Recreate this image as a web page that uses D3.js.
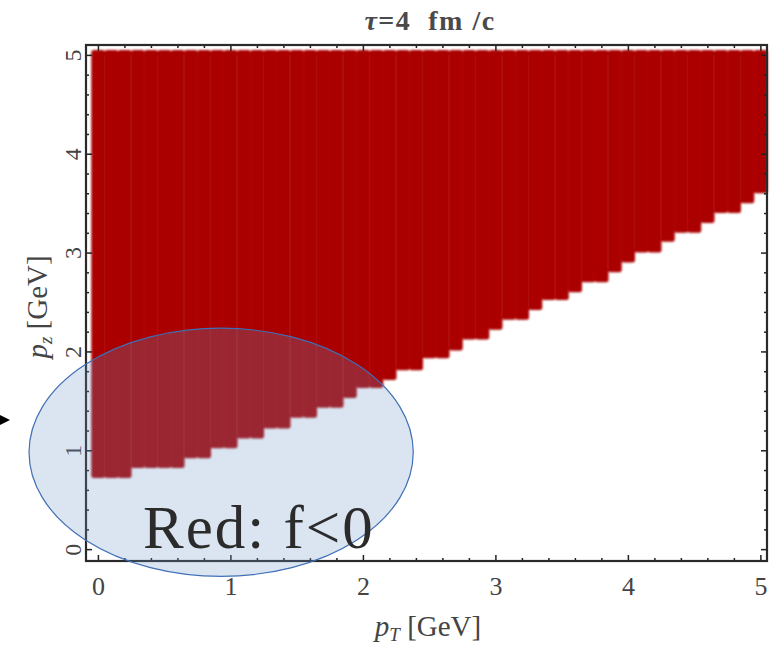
<html>

<head>
	<meta charset="utf-8">
	<script src="https://d3js.org/d3.v7.min.js"></script>
</head>

<body style="margin:0; background:#fff">
	<svg width="771" height="645"></svg>
	<script>
		// grid columns (pT, GeV) and lowest pz where f<0 in each column
		var pT = [0.0, 0.1, 0.2, 0.3, 0.4, 0.5, 0.6, 0.7, 0.8, 0.9,
			1.0, 1.1, 1.2, 1.3, 1.4, 1.5, 1.6, 1.7, 1.8, 1.9,
			2.0, 2.1, 2.2, 2.3, 2.4, 2.5, 2.6, 2.7, 2.8, 2.9,
			3.0, 3.1, 3.2, 3.3, 3.4, 3.5, 3.6, 3.7, 3.8, 3.9,
			4.0, 4.1, 4.2, 4.3, 4.4, 4.5, 4.6, 4.7, 4.8, 4.9, 5.0];
		var pzMin = [0.72, 0.72, 0.72, 0.82, 0.82, 0.82, 0.82, 0.92, 0.92, 1.02,
			1.02, 1.12, 1.12, 1.22, 1.22, 1.33, 1.33, 1.43, 1.43, 1.53,
			1.63, 1.63, 1.71, 1.81, 1.81, 1.93, 1.93, 2.01, 2.12, 2.12,
			2.22, 2.32, 2.32, 2.42, 2.52, 2.52, 2.60, 2.70, 2.70, 2.80,
			2.90, 3.00, 3.00, 3.11, 3.20, 3.20, 3.30, 3.40, 3.40, 3.50, 3.60];
		var pzMax = 5;
		var majorTicks = [0, 1, 2, 3, 4, 5];
		var minorTicks = [0.2, 0.4, 0.6, 0.8, 1.2, 1.4, 1.6, 1.8, 2.2, 2.4, 2.6, 2.8,
			3.2, 3.4, 3.6, 3.8, 4.2, 4.4, 4.6, 4.8];

		var svg = d3.select("svg"),
			frame = { left: 86, right: 767, top: 45, bottom: 561 },
			half = 0.05,
			serif = "'Liberation Serif', 'Times New Roman', serif";

		var x = d3.scaleLinear()
			.domain([-0.09, 5.05])
			.range([frame.left, frame.right]);

		var y = d3.scaleLinear()
			.domain([-0.12, 5.1])
			.range([frame.bottom, frame.top]);

		svg.append("defs").append("filter")
			.attr("id", "soft")
			.append("feGaussianBlur")
			.attr("stdDeviation", 0.8);

		// red region f<0
		var cells = svg.append("g")
			.attr("filter", "url(#soft)");

		cells.selectAll("rect")
			.data(pT)
			.enter().append("rect")
			.attr("x", function (d) { return x(d - half); })
			.attr("width", function (d) { return x(d + half) - x(d - half) + 0.5; })
			.attr("y", y(pzMax + half))
			.attr("height", function (d, i) { return y(pzMin[i]) - y(pzMax + half); })
			.attr("rx", 2.5)
			.attr("fill", "#aa0000");

		// faint seams between columns
		cells.selectAll("line")
			.data(pT.slice(1))
			.enter().append("line")
			.attr("x1", function (d) { return x(d - half); })
			.attr("x2", function (d) { return x(d - half); })
			.attr("y1", y(pzMax))
			.attr("y2", function (d, i) { return y(pzMin[i + 1]) - 3; })
			.attr("stroke", "#b81a1a")
			.attr("stroke-width", 0.8);

		// frame + ticks
		function ticks(axis, size, vals) {
			return axis.tickValues(vals).tickSize(size).tickSizeOuter(0);
		}

		var bottom = svg.append("g")
			.attr("transform", "translate(0," + frame.bottom + ")")
			.call(ticks(d3.axisBottom(x), -6, majorTicks).tickFormat(d3.format("d")).tickPadding(16));
		bottom.selectAll("text")
			.attr("font-family", serif)
			.attr("font-size", 26)
			.attr("fill", "#444");

		svg.append("g")
			.attr("transform", "translate(0," + frame.bottom + ")")
			.call(ticks(d3.axisBottom(x), -3, minorTicks).tickFormat(""));

		var left = svg.append("g")
			.attr("transform", "translate(" + frame.left + ",0)")
			.call(ticks(d3.axisLeft(y), -6, majorTicks).tickFormat(d3.format("d")));
		left.selectAll("text")
			.attr("x", null)
			.attr("dy", null)
			.attr("transform", "translate(-5,0) rotate(-90)")
			.attr("text-anchor", "middle")
			.attr("font-family", serif)
			.attr("font-size", 24)
			.attr("fill", "#444");

		svg.append("g")
			.attr("transform", "translate(" + frame.left + ",0)")
			.call(ticks(d3.axisLeft(y), -3, minorTicks).tickFormat(""));

		svg.append("g")
			.attr("transform", "translate(0," + frame.top + ")")
			.call(ticks(d3.axisTop(x), -6, majorTicks).tickFormat(""));
		svg.append("g")
			.attr("transform", "translate(0," + frame.top + ")")
			.call(ticks(d3.axisTop(x), -3, minorTicks).tickFormat(""));
		svg.append("g")
			.attr("transform", "translate(" + frame.right + ",0)")
			.call(ticks(d3.axisRight(y), -6, majorTicks).tickFormat(""));
		svg.append("g")
			.attr("transform", "translate(" + frame.right + ",0)")
			.call(ticks(d3.axisRight(y), -3, minorTicks).tickFormat(""));

		svg.selectAll(".domain").remove();
		svg.selectAll(".tick line").attr("stroke", "#222").attr("stroke-width", 1.5);

		svg.append("rect")
			.attr("x", frame.left)
			.attr("y", frame.top)
			.attr("width", frame.right - frame.left)
			.attr("height", frame.bottom - frame.top)
			.attr("fill", "none")
			.attr("stroke", "#2a2a2a")
			.attr("stroke-width", 2.2);

		// titles
		svg.append("text")
			.attr("x", 430)
			.attr("y", 30)
			.attr("text-anchor", "middle")
			.attr("font-family", serif)
			.attr("font-size", 28)
			.attr("font-weight", "bold")
			.attr("letter-spacing", 1.5)
			.attr("fill", "#4a4a4a")
			.html("<tspan font-style='italic'>τ</tspan>=4&#160;&#160;fm /c");

		var xl = svg.append("text")
			.attr("x", 428)
			.attr("y", 636)
			.attr("text-anchor", "middle")
			.attr("font-family", serif)
			.attr("font-size", 29)
			.attr("fill", "#444");
		xl.append("tspan").attr("font-style", "italic").text("p");
		xl.append("tspan").attr("font-style", "italic").attr("font-size", 19).attr("dy", 5).text("T");
		xl.append("tspan").attr("dy", -5).text(" [GeV]");

		var yl = svg.append("text")
			.attr("transform", "translate(47,307) rotate(-90)")
			.attr("text-anchor", "middle")
			.attr("font-family", serif)
			.attr("font-size", 29)
			.attr("fill", "#444");
		yl.append("tspan").attr("font-style", "italic").text("p");
		yl.append("tspan").attr("font-style", "italic").attr("font-size", 19).attr("dy", 5).text("z");
		yl.append("tspan").attr("dy", -5).text(" [GeV]");

		// annotation ellipse
		var ell = { pT: 0.93, pz: 0.98, rT: 1.45, rz: 1.255 };
		svg.append("ellipse")
			.attr("cx", x(ell.pT))
			.attr("cy", y(ell.pz))
			.attr("rx", x(ell.pT + ell.rT) - x(ell.pT))
			.attr("ry", y(ell.pz) - y(ell.pz + ell.rz))
			.attr("fill", "rgb(109,150,198)")
			.attr("fill-opacity", 0.25)
			.attr("stroke", "#3f6fb5")
			.attr("stroke-width", 1.2);

		svg.append("text")
			.attr("x", x(0.34))
			.attr("y", y(0.01))
			.attr("font-family", serif)
			.attr("font-size", 61)
			.attr("letter-spacing", 2)
			.attr("fill", "#2b2b2b")
			.text("Red: f<0");

		// arrow tip coming from the left
		svg.append("line")
			.attr("x1", 0).attr("y1", 420)
			.attr("x2", 4).attr("y2", 420)
			.attr("stroke", "#000").attr("stroke-width", 1.5);
		svg.append("path")
			.attr("d", "M0,415L10,420L0,425Z")
			.attr("fill", "#000");
	</script>

</body>

</html>
